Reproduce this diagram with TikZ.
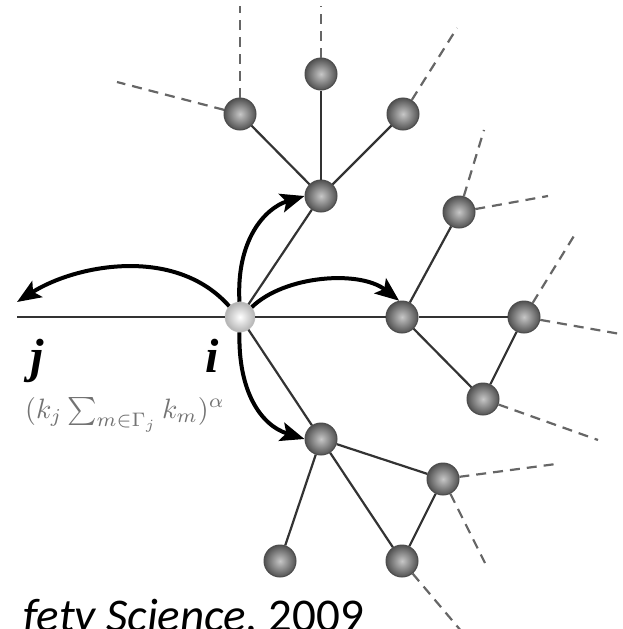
\documentclass[tikz,border=0pt]{standalone}
\usepackage{fontspec}
\setmainfont{Liberation Serif}
\newfontfamily\calib{Carlito}
\usetikzlibrary{arrows.meta}
\begin{document}
\begin{tikzpicture}[x=1pt,y=-1pt,
  ball/.style={circle, minimum size=32pt, inner sep=0pt, draw=black!70, line width=1pt,
    shading=radial, inner color=black!22, outer color=black!68},
  iball/.style={circle, minimum size=30pt, inner sep=0pt, draw=black!25, line width=0.6pt,
    shading=radial, inner color=white, outer color=black!30},
  edgeline/.style={draw=black!80, line width=2.2pt},
  dashline/.style={draw=black!60, line width=2.2pt, dash pattern=on 10pt off 7pt},
  arr/.style={draw=black, line width=4pt, -{Stealth[length=24pt,width=19pt,inset=5pt]}},
  lbl/.style={inner sep=0pt, font=\fontsize{48}{50}\selectfont\bfseries\itshape}
]
\path[use as bounding box, fill=white] (0,0) rectangle (623,629);
\clip (0,0) rectangle (623,629);

% nodes
\node[iball] (i) at (240,317) {};
\node[ball] (T) at (321,196) {};
\node[ball] (T1) at (240,114) {};
\node[ball] (T2) at (321,74) {};
\node[ball] (T3) at (403,114) {};
\node[ball] (R) at (402,317) {};
\node[ball] (R1) at (459,212) {};
\node[ball] (R2) at (524,317) {};
\node[ball] (R3) at (483,399) {};
\node[ball] (B) at (321,439) {};
\node[ball] (B1) at (443,479) {};
\node[ball] (B2) at (280,561) {};
\node[ball] (B3) at (402,561) {};

\coordinate (jleft) at (17,317);
\coordinate (jend) at (17,302);

% dashed ends
\coordinate (dT1u) at (240,6);
\coordinate (dT1l) at (117,82);
\coordinate (dT2u) at (321,6);
\coordinate (dT3u) at (457,28);
\coordinate (dR1u) at (484,130);
\coordinate (dR1r) at (548,196);
\coordinate (dR2u) at (577,231);
\coordinate (dR2r) at (626,335);
\coordinate (dR3r) at (598,440);
\coordinate (dB1r) at (556,464);
\coordinate (dB1d) at (485,563);
\coordinate (dB3d) at (462,632);

% edges
\draw[edgeline] (jleft) -- (i);
\draw[edgeline] (i) -- (R);
\draw[edgeline] (R) -- (R2);
\draw[edgeline] (i) -- (T);
\draw[edgeline] (i) -- (B);
\draw[edgeline] (T) -- (T1);
\draw[edgeline] (T) -- (T2);
\draw[edgeline] (T) -- (T3);
\draw[edgeline] (R) -- (R1);
\draw[edgeline] (R) -- (R3);
\draw[edgeline] (R3) -- (R2);
\draw[edgeline] (B) -- (B1);
\draw[edgeline] (B) -- (B2);
\draw[edgeline] (B) -- (B3);
\draw[edgeline] (B1) -- (B3);

% dashed
\draw[dashline] (T1) -- (dT1u);
\draw[dashline] (T1) -- (dT1l);
\draw[dashline] (T2) -- (dT2u);
\draw[dashline] (T3) -- (dT3u);
\draw[dashline] (R1) -- (dR1u);
\draw[dashline] (R1) -- (dR1r);
\draw[dashline] (R2) -- (dR2u);
\draw[dashline] (R2) -- (dR2r);
\draw[dashline] (R3) -- (dR3r);
\draw[dashline] (B1) -- (dB1r);
\draw[dashline] (B1) -- (dB1d);
\draw[dashline] (B3) -- (dB3d);

% curved arrows
\draw[arr] (i.135) .. controls (175,245) and (75,265) .. (jend);
\draw[arr] (i.40) .. controls (285,275) and (360,270) .. (R.100);
\draw[arr] (i.92) .. controls (236,240) and (265,208) .. (T.west);
\draw[arr] (i.268) .. controls (238,390) and (260,425) .. (B.west);

% labels
\node[lbl, anchor=base] (jl) at (37,372) {j};
\node[lbl, anchor=base] (il) at (212,372) {i};
\node[inner sep=0pt, anchor=base west, text=black!55] (form) at (25,418)
  {\scalebox{2.8}{$(k_j \sum_{m\in\Gamma_j} k_m)^\alpha$}};
\node[inner sep=0pt, anchor=base west, font=\calib\fontsize{47}{50}\selectfont] (cite) at (23,631)
  {\itshape fety Science,\upshape{} 2009};
\end{tikzpicture}
\end{document}
